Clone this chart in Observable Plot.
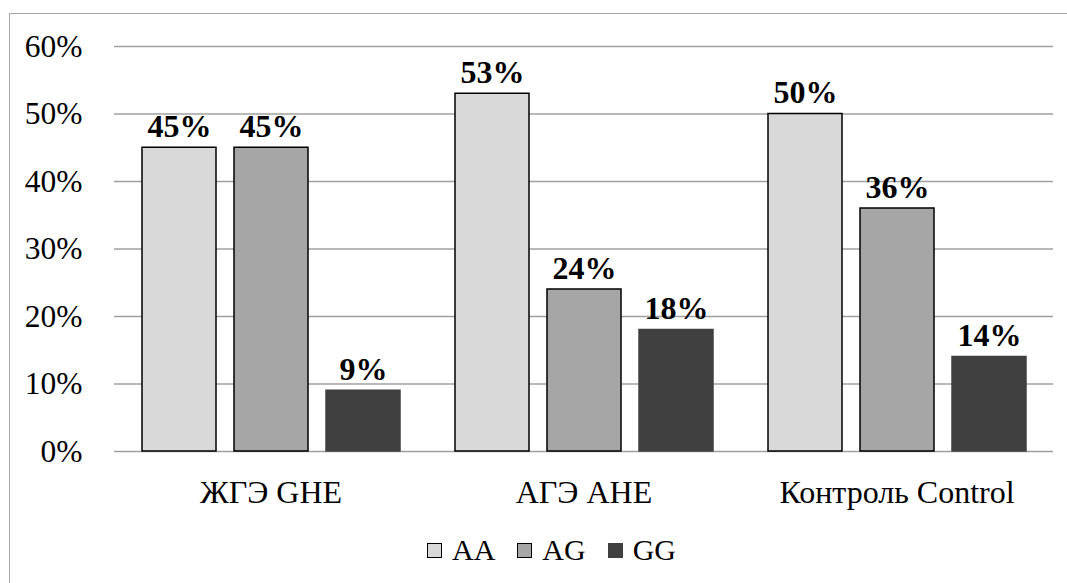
<!DOCTYPE html>
<html>
<head>
<meta charset="utf-8">
<script src="https://cdn.jsdelivr.net/npm/d3@7"></script>
<script src="https://cdn.jsdelivr.net/npm/@observablehq/plot@0.6"></script>
<style>
  html, body { margin: 0; padding: 0; background: #fff; overflow: hidden; }
  #wrap { position: relative; width: 1067px; height: 583px; font-family: 'Liberation Serif', 'Times New Roman', serif; }
  #frame { position: absolute; left: 9px; top: 13px; width: 1100px; height: 600px; border-left: 1.5px solid #a6a6a6; border-top: 1.5px solid #a6a6a6; }
  #chart { position: absolute; left: 0; top: 0; }
  #legend { position: absolute; left: 427px; top: 533px; display: flex; align-items: center; font-size: 30px; color: #000; }
  .item { display: flex; align-items: center; margin-right: 22px; }
  .sw { width: 13px; height: 13px; margin-right: 10px; box-sizing: content-box; }
  #chart svg text { font-family: 'Liberation Serif', 'Times New Roman', serif; }
</style>
</head>
<body>
<div id="wrap">
  <div id="frame"></div>
  <div id="chart"></div>
  <div id="legend"></div>
</div>
<script>
const groups = ["ЖГЭ GHE", "АГЭ AHE", "Контроль Control"];
const genotypes = ["AA", "AG", "GG"];
const valuesAA = [45, 53, 50];
const valuesAG = [45, 24, 36];
const valuesGG = [9, 18, 14];
const colors = ["#d9d9d9", "#a6a6a6", "#404040"];
const strokes = ["#000", "#000", "#404040"];
const yTicks = [0, 10, 20, 30, 40, 50, 60];

const series = [valuesAA, valuesAG, valuesGG];
const data = [];
groups.forEach((g, gi) => {
  genotypes.forEach((gt, ti) => {
    data.push({group: g, genotype: gt, value: series[ti][gi]});
  });
});

const font = "'Liberation Serif', 'Times New Roman', serif";

const chart = Plot.plot({
  width: 1067,
  height: 520,
  marginTop: 46,
  marginBottom: 69,
  marginLeft: 113,
  marginRight: 14,
  style: {fontFamily: font, background: "transparent", overflow: "visible"},
  fx: {domain: groups, padding: 0, paddingInner: 0, paddingOuter: 0, axis: null},
  x: {domain: genotypes, paddingInner: 0.196, paddingOuter: 0.298, axis: null},
  y: {domain: [0, 60], axis: null},
  color: {domain: genotypes, range: colors},
  marks: [
    Plot.gridY(yTicks, {stroke: "#a0a0a0", strokeOpacity: 1, strokeWidth: 1.5}),
    Plot.axisY(yTicks, {tickSize: 0, tickPadding: 32, fontSize: 31.5, tickFormat: d => d + "%", label: null, fill: "#000"}),
    Plot.axisFx({anchor: "bottom", tickSize: 0, tickPadding: 29, fontSize: 32, label: null, fill: "#000"}),
    Plot.barY(data, {
      fx: "group", x: "genotype", y: "value",
      fill: "genotype",
      stroke: d => strokes[genotypes.indexOf(d.genotype)],
      strokeWidth: 1.5
    }),
    Plot.text(data, {
      fx: "group", x: "genotype", y: "value",
      text: d => d.value + "%",
      lineAnchor: "bottom", dy: -11,
      fontSize: 32, fontWeight: "bold", fill: "#000"
    })
  ]
});
document.getElementById("chart").appendChild(chart);

const legend = document.getElementById("legend");
genotypes.forEach((gt, i) => {
  const item = document.createElement("div");
  item.className = "item";
  const sw = document.createElement("div");
  sw.className = "sw";
  sw.style.background = colors[i];
  sw.style.border = "1.5px solid " + strokes[i];
  const t = document.createElement("span");
  t.textContent = gt;
  item.appendChild(sw);
  item.appendChild(t);
  legend.appendChild(item);
});
</script>
</body>
</html>
